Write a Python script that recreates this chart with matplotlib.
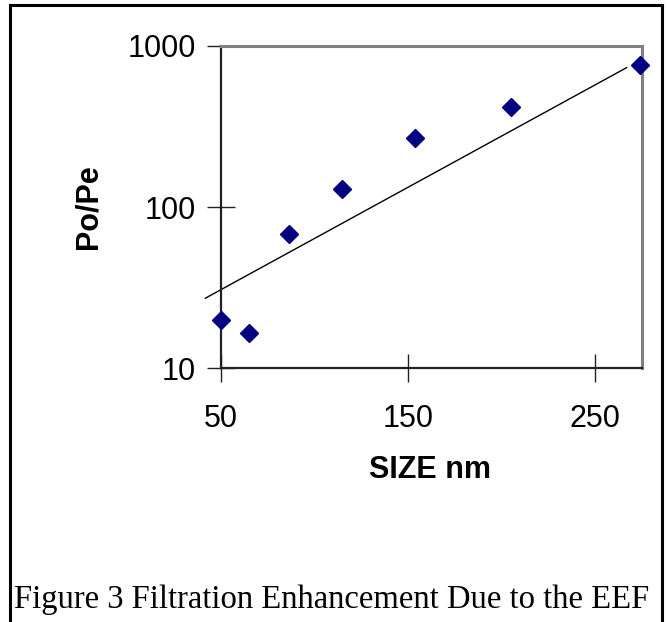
import numpy as np
import matplotlib
matplotlib.use('Agg')
import matplotlib.pyplot as plt
from matplotlib.lines import Line2D

# Data
size_nm = [50, 65, 86.5, 115, 154, 205, 274]
po_pe = [19.8, 16.6, 67.8, 130, 267, 419, 758]

# Trend line end points (exponential trend, straight on log axis)
trend_x = [41.8, 266.8]
trend_y = [27.2, 731]

x_ticks = [50, 150, 250]
y_ticks = [10, 100, 1000]

plt.rcParams['font.family'] = ['Liberation Sans', 'DejaVu Sans']

fig = plt.figure(figsize=(6.68, 6.22), dpi=100)
ax = fig.add_axes([0.3304, 0.4079, 0.961 - 0.3304, 0.9265 - 0.4079])

ax.plot(trend_x, trend_y, color='black', linewidth=1.0, clip_on=False, zorder=2)
ax.plot(size_nm, po_pe, linestyle='none', marker='D', markersize=9.5,
        color='#000080', clip_on=False, zorder=5)

ax.set_yscale('log')
ax.set_xlim(50, 275)
ax.set_ylim(10, 1000)
ax.set_xticks(x_ticks)
ax.set_xticklabels([str(t) for t in x_ticks])
ax.set_yticks(y_ticks)
ax.set_yticklabels([str(t) for t in y_ticks])
ax.yaxis.set_minor_locator(matplotlib.ticker.NullLocator())
ax.tick_params(axis='both', direction='inout', length=20, width=1.0,
               labelsize=22, color='#222222')
ax.tick_params(axis='x', pad=16)
ax.tick_params(axis='y', pad=8)

ax.spines['left'].set_color('#222222')
ax.spines['bottom'].set_color('#222222')
ax.spines['left'].set_linewidth(1.6)
ax.spines['bottom'].set_linewidth(1.6)
ax.spines['top'].set_color('#808080')
ax.spines['right'].set_color('#808080')
ax.spines['top'].set_linewidth(2.2)
ax.spines['right'].set_linewidth(2.2)

# Axis titles
fig.text(430 / 668, 1 - 470 / 622, 'SIZE nm', fontsize=22, fontweight='bold',
         ha='center', va='center')
fig.text(88 / 668, 1 - 207 / 622, 'Po/Pe', fontsize=22, fontweight='bold',
         ha='center', va='center', rotation=90)

# Caption
fig.text(14 / 668, 1 - 600 / 622, 'Figure 3 Filtration Enhancement Due to the EEF',
         fontsize=23.5, family=['Liberation Serif', 'DejaVu Serif'],
         ha='left', va='center')

# Outer frame (open at bottom)
W, H = 668, 622
for xs, ys in [([10, 662], [5, 5]), ([10, 10], [5, 622]), ([662, 662], [5, 622])]:
    fig.add_artist(Line2D([x / W for x in xs], [1 - y / H for y in ys],
                          color='black', linewidth=2.2, transform=fig.transFigure))

fig.savefig('out.png', dpi=100)
